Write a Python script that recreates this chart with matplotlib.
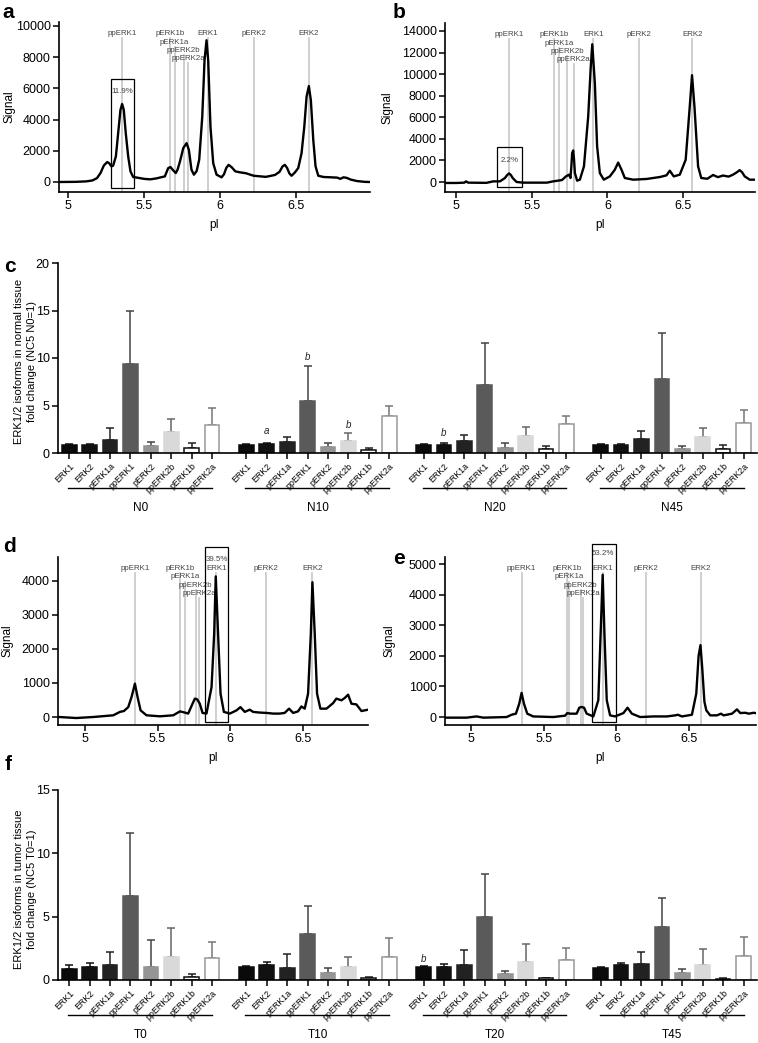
import matplotlib
matplotlib.use('Agg')
import matplotlib.pyplot as plt
from matplotlib.patches import Rectangle
import numpy as np

plt.rcParams['font.family'] = ['Liberation Sans', 'DejaVu Sans']

W, H = 758, 1043

# ---- electropherogram traces (pI, signal) ----
a_pi = [4.94, 5.05, 5.12, 5.16, 5.19, 5.213, 5.235, 5.257, 5.27, 5.285, 5.296, 5.314, 5.329, 5.344,
        5.355, 5.366, 5.379, 5.395, 5.41, 5.428, 5.46, 5.50, 5.54, 5.58, 5.61, 5.636, 5.658, 5.673,
        5.691, 5.708, 5.72, 5.735, 5.757, 5.779, 5.794, 5.811, 5.827, 5.845, 5.862, 5.882, 5.897,
        5.910, 5.921, 5.936, 5.954, 5.976, 6.009, 6.025, 6.04, 6.055, 6.075, 6.10, 6.13, 6.17, 6.22,
        6.30, 6.36, 6.39, 6.41, 6.425, 6.44, 6.455, 6.469, 6.49, 6.513, 6.535, 6.553, 6.568, 6.583,
        6.596, 6.612, 6.627, 6.645, 6.68, 6.73, 6.77, 6.79, 6.81, 6.83, 6.86, 6.90, 6.95, 6.98]
a_sig = [0, 10, 40, 100, 250, 575, 1060, 1280, 1200, 1000, 1050, 1640, 3130, 4620,
         5000, 4620, 3130, 1640, 680, 320, 270, 200, 170, 230, 300, 360, 890, 960,
         745, 575, 800, 1300, 2170, 2490, 2060, 790, 470, 700, 1430, 4190, 7800,
         9085, 7800, 3550, 1210, 470, 300, 500, 900, 1100, 950, 680, 620, 560, 400,
         330, 450, 650, 1000, 1100, 900, 550, 400, 600, 890, 1850, 3550, 5470, 6150,
         5250, 2700, 1000, 400, 320, 300, 280, 200, 300, 270, 150, 60, 10, 0]

b_pi = [4.93, 5.00, 5.055, 5.066, 5.08, 5.20, 5.246, 5.29, 5.323, 5.338, 5.35, 5.362, 5.374, 5.40,
        5.444, 5.60, 5.642, 5.70, 5.726, 5.746, 5.756, 5.762, 5.767, 5.774, 5.78, 5.785, 5.80,
        5.818, 5.845, 5.873, 5.89, 5.90, 5.917, 5.932, 5.95, 5.976, 6.016, 6.049, 6.071, 6.093,
        6.115, 6.17, 6.258, 6.346, 6.39, 6.412, 6.438, 6.478, 6.517, 6.544, 6.559, 6.575, 6.599,
        6.62, 6.66, 6.698, 6.73, 6.764, 6.80, 6.83, 6.855, 6.874, 6.89, 6.907, 6.94, 6.975]
b_sig = [-90, -90, -60, 60, -60, -80, 60, 60, 370, 650, 800, 650, 370, 0,
         -60, -60, 60, 180, 520, 680, 370, 1500, 2680, 2920, 2000, 830, 120,
         215, 1450, 6060, 10700, 12770, 9140, 3300, 830, 215, 520, 1140, 1800, 1140,
         370, 215, 280, 460, 615, 1050, 520, 680, 2060, 7000, 9900, 7000, 1450,
         370, 300, 650, 450, 600, 500, 680, 900, 1100, 900, 520, 215, 215]

d_pi = [4.82, 4.94, 5.057, 5.195, 5.241, 5.268, 5.298, 5.321, 5.344, 5.362, 5.383, 5.424, 5.516,
        5.608, 5.654, 5.688, 5.711, 5.741, 5.757, 5.773, 5.791, 5.81, 5.837, 5.872, 5.89, 5.901,
        5.917, 5.934, 5.957, 5.998, 6.044, 6.071, 6.101, 6.135, 6.158, 6.204, 6.25, 6.296, 6.342,
        6.376, 6.406, 6.434, 6.468, 6.491, 6.514, 6.537, 6.556, 6.567, 6.583, 6.599, 6.622, 6.664,
        6.71, 6.732, 6.767, 6.79, 6.813, 6.836, 6.87, 6.905, 6.928, 6.951]
d_sig = [0, -30, 0, 50, 150, 175, 290, 590, 980, 590, 195, 50, 20,
         50, 165, 130, 100, 390, 540, 520, 390, 120, 100, 880, 2440, 4130,
         2440, 685, 150, 100, 195, 290, 150, 215, 150, 130, 120, 100, 100,
         120, 245, 120, 165, 310, 245, 685, 2440, 3960, 2440, 685, 245, 245,
         410, 540, 490, 560, 655, 390, 370, 175, 195, 215]

e_pi = [4.82, 4.968, 5.037, 5.083, 5.244, 5.278, 5.308, 5.331, 5.347, 5.363, 5.386, 5.427, 5.565,
        5.646, 5.662, 5.68, 5.726, 5.744, 5.76, 5.777, 5.795, 5.841, 5.875, 5.891, 5.905, 5.917,
        5.933, 5.956, 5.99, 6.048, 6.076, 6.106, 6.163, 6.255, 6.347, 6.404, 6.423, 6.45, 6.519,
        6.549, 6.565, 6.578, 6.59, 6.605, 6.618, 6.645, 6.691, 6.719, 6.737, 6.795, 6.829, 6.852,
        6.887, 6.91, 6.944, 6.978]
e_sig = [-20, -20, 20, -20, 0, 75, 110, 440, 790, 440, 110, 20, 0,
         45, 130, 110, 110, 305, 330, 305, 110, 20, 550, 2740, 4650, 2740,
         550, 55, 20, 130, 305, 110, 0, 20, 20, 55, 75, 20, 75,
         765, 2000, 2350, 1600, 500, 220, 55, 55, 110, 55, 110, 250, 130,
         140, 110, 140, 110]

# isoform marker lines (name order as below)
peak_names = ['ppERK1', 'pERK1b', 'pERK1a', 'ppERK2b', 'ppERK2a', 'ERK1', 'pERK2', 'ERK2']
peak_row = [0, 0, 1, 2, 3, 0, 0, 0]
a_peaks = [5.357, 5.67, 5.70, 5.76, 5.79, 5.917, 6.222, 6.584]
b_peaks = [5.35, 5.647, 5.68, 5.735, 5.778, 5.906, 6.21, 6.561]
d_peaks = [5.344, 5.656, 5.688, 5.762, 5.787, 5.906, 6.25, 6.567]
e_peaks = [5.347, 5.662, 5.676, 5.754, 5.772, 5.905, 6.204, 6.581]

# ---- bar charts ----
isoforms = ['ERK1', 'ERK2', 'pERK1a', 'ppERK1', 'pERK2', 'ppERK2b', 'pERK1b', 'ppERK2a']
c_groups = ['N0', 'N10', 'N20', 'N45']
c_mean = [[0.88, 0.80, 1.40, 9.33, 0.70, 2.18, 0.56, 2.95],
          [0.88, 0.95, 1.16, 5.50, 0.63, 1.23, 0.32, 3.90],
          [0.88, 0.88, 1.30, 7.19, 0.53, 1.75, 0.39, 3.09],
          [0.88, 0.88, 1.50, 7.75, 0.39, 1.65, 0.39, 3.19]]
c_err = [[0.12, 0.15, 1.20, 5.62, 0.46, 1.40, 0.49, 1.82],
         [0.10, 0.10, 0.52, 3.70, 0.46, 0.87, 0.24, 1.05],
         [0.07, 0.17, 0.56, 4.41, 0.49, 0.99, 0.31, 0.81],
         [0.07, 0.10, 0.80, 4.85, 0.35, 1.02, 0.45, 1.34]]
c_marks = [(1, 1, 'a', 2.28), (1, 3, 'b', 10.1), (1, 5, 'b', 2.98), (2, 1, 'b', 2.1)]

f_groups = ['T0', 'T10', 'T20', 'T45']
f_mean = [[0.87, 1.03, 1.16, 6.66, 1.03, 1.82, 0.24, 1.74],
          [1.00, 1.21, 0.97, 3.60, 0.53, 1.03, 0.18, 1.79],
          [1.00, 1.05, 1.20, 4.97, 0.45, 1.42, 0.16, 1.60],
          [0.95, 1.18, 1.24, 4.18, 0.55, 1.21, 0.10, 1.87]]
f_err = [[0.31, 0.34, 1.08, 4.97, 2.13, 2.26, 0.26, 1.23],
         [0.10, 0.21, 1.06, 2.27, 0.39, 0.81, 0.08, 1.50],
         [0.08, 0.21, 1.17, 3.43, 0.29, 1.42, 0.02, 0.90],
         [0.08, 0.16, 0.94, 2.29, 0.34, 1.24, 0.03, 1.52]]
f_marks = [(2, 0, 'b', 1.63)]

face = ['#0a0a0a', '#111111', '#222222', '#5a5a5a', '#959595', '#d9d9d9', 'white', 'white']
edge = ['#0a0a0a', '#111111', '#222222', '#5a5a5a', '#959595', '#d9d9d9', '#111111', '#999999']
ecol = ['#111111', '#111111', '#222222', '#444444', '#444444', '#666666', '#222222', '#777777']

fig = plt.figure(figsize=(W / 100, H / 100), dpi=100)


def add_ax(l, t, r, b):
    ax = fig.add_axes([l / W, 1 - b / H, (r - l) / W, (b - t) / H])
    for s in ['top', 'right']:
        ax.spines[s].set_visible(False)
    for s in ['left', 'bottom']:
        ax.spines[s].set_linewidth(1.2)
    ax.tick_params(direction='out', length=4, width=1.1, labelsize=9, pad=2)
    return ax


def trace_panel(rect, pi, sig, peaks, xlim, ylim, ystep, box, pct, pct_xy, ylab_x):
    ax = add_ax(*rect)
    ax.set_xlim(*xlim)
    ax.set_ylim(*ylim)
    for p, name, row in zip(peaks, peak_names, peak_row):
        ty = 0.93 - 0.049 * row
        ax.axvline(p, ymin=0, ymax=ty - 0.027, color='#cccccc', lw=1.3, zorder=1)
        ax.text(p, ty, name, transform=ax.get_xaxis_transform(), ha='center', va='center',
                fontsize=5.7, color='#444444')
    ax.plot(pi, sig, color='black', lw=1.7, zorder=3)
    ax.add_patch(Rectangle((box[0], box[2]), box[1] - box[0], box[3] - box[2], fill=False,
                           lw=0.9, ec='black', clip_on=False, zorder=4))
    ax.text(pct_xy[0], pct_xy[1], pct, ha='center', va='center', fontsize=5.7, color='#444444')
    ax.set_xticks([5, 5.5, 6, 6.5])
    ax.set_xticklabels(['5', '5.5', '6', '6.5'])
    ax.set_yticks(np.arange(0, ylim[1], ystep))
    ax.set_xlabel('pI', fontsize=8.5)
    ax.xaxis.set_label_coords(0.5, -0.16)
    ax.set_ylabel('Signal', fontsize=8.5)
    ax.yaxis.set_label_coords(ylab_x, 0.5)
    return ax


def bar_panel(rect, groups, mean, err, marks, ymax, ylabel):
    ax = add_ax(*rect)
    stride = 8.68
    ticks, labels = [], []
    for g, grp in enumerate(groups):
        x = g * stride + np.arange(len(isoforms))
        ticks += list(x)
        labels += isoforms
        ax.plot([x[0] - 0.05, x[-1]], [-0.182, -0.182], color='black', lw=1.0,
                transform=ax.get_xaxis_transform(), clip_on=False)
        ax.text(x.mean(), -0.29, grp, transform=ax.get_xaxis_transform(),
                ha='center', va='center', fontsize=8.5)
    for i in range(len(isoforms)):
        x = np.arange(len(groups)) * stride + i
        m = [row[i] for row in mean]
        e = [row[i] for row in err]
        ax.bar(x, m, width=0.72, color=face[i], edgecolor=edge[i], lw=1.1, zorder=2)
        ax.errorbar(x, m, yerr=[np.zeros(len(e)), e], fmt='none', ecolor=ecol[i],
                    elinewidth=1.1, capsize=3.2, capthick=1.1, zorder=1)
    for g, i, s, y in marks:
        ax.text(g * stride + i, y, s, ha='center', va='center', fontsize=7, style='italic',
                color='#222222')
    ax.set_xlim(-0.55, 33.7)
    ax.set_ylim(0, ymax)
    ax.set_yticks(np.arange(0, ymax + 1, 5))
    ax.set_xticks(ticks)
    ax.set_xticklabels(labels, rotation=45, ha='right', rotation_mode='anchor', fontsize=6.4)
    ax.spines['left'].set_bounds(0, ymax)
    ax.set_ylabel(ylabel, fontsize=8, linespacing=1.35)
    ax.yaxis.set_label_coords(-0.03, 0.48)
    return ax


trace_panel((59, 22, 370, 192), a_pi, a_sig, a_peaks, (4.94, 6.985), (-641, 10256), 2000,
            (5.281, 5.434, -385, 6600), '11.9%', (5.357, 5770), -0.14)
trace_panel((445, 23, 755, 192), b_pi, b_sig, b_peaks, (4.927, 6.975), (-927, 14740), 2000,
            (5.273, 5.433, -490, 3230), '2.2%', (5.352, 2000), -0.165)
bar_panel((58, 263, 757, 453), c_groups, c_mean, c_err, c_marks, 20,
          'ERK1/2 isoforms in normal tissue\nfold change (NC5 N0=1)')
trace_panel((58, 557, 368, 725), d_pi, d_sig, d_peaks, (4.814, 6.95), (-235, 4700), 1000,
            (5.826, 5.987, -156, 4990), '39.5%', (5.906, 4635), -0.145)
trace_panel((445, 557, 756, 725), e_pi, e_sig, e_peaks, (4.82, 6.96), (-260, 5230), 1000,
            (5.834, 5.995, -175, 5657), '53.2%', (5.905, 5330), -0.16)
bar_panel((58, 790, 757, 980), f_groups, f_mean, f_err, f_marks, 15,
          'ERK1/2 isoforms in tumor tissue\nfold change (NC5 T0=1)')

for letter, x, y in [('a', 8, 13), ('b', 399, 12), ('c', 10, 266), ('d', 9, 546),
                     ('e', 399, 559), ('f', 8, 764)]:
    fig.text(x / W, 1 - y / H, letter, fontsize=15, fontweight='bold', ha='center', va='center')

fig.savefig('out.png', dpi=100)
